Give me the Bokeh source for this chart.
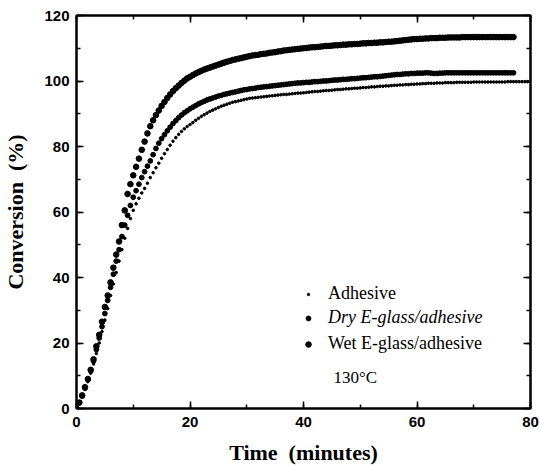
import numpy as np
from bokeh.plotting import figure
from bokeh.models import (ColumnDataSource, Range1d, LinearAxis, SingleIntervalTicker,
                          Legend, LegendItem, Label)
from bokeh.embed import file_html
from bokeh.resources import INLINE

# ---- data ----
time_step = 0.5
time_wet = np.arange(0, 155) * time_step      # 0 .. 77 min
time_dry = np.arange(0, 155) * time_step      # 0 .. 77 min
time_adh = np.arange(0, 160) * time_step      # 0 .. 79.5 min

wet = [
    0, 1.8, 4.0, 6.5, 9.0, 11.8, 15.0, 19.0, 22.5, 26.5,
    31.0, 34.5, 38.5, 43.0, 47.0, 51.0, 56.0, 60.5, 65.5, 68.5,
    71.2, 73.8, 76.3, 79.0, 81.5, 84.0, 86.2, 88.0, 89.6, 91.0,
    92.4, 93.6, 94.8, 95.9, 96.9, 97.8, 98.6, 99.4, 100.1, 100.8,
    101.3, 101.8, 102.3, 102.7, 103.1, 103.5, 103.8, 104.1, 104.4, 104.7,
    105.0, 105.3, 105.6, 105.9, 106.1, 106.4, 106.6, 106.8, 107.0, 107.2,
    107.4, 107.6, 107.8, 107.9, 108.0, 108.2, 108.3, 108.4, 108.6, 108.7,
    108.8, 109.0, 109.1, 109.3, 109.4, 109.5, 109.6, 109.7, 109.8, 109.9,
    110.0, 110.1, 110.2, 110.3, 110.3, 110.4, 110.5, 110.6, 110.7, 110.7,
    110.8, 110.9, 110.9, 111.0, 111.1, 111.1, 111.2, 111.2, 111.3, 111.3,
    111.4, 111.5, 111.5, 111.6, 111.6, 111.7, 111.7, 111.8, 111.8, 111.9,
    112.0, 112.0, 112.1, 112.2, 112.3, 112.4, 112.5, 112.6, 112.7, 112.8,
    112.8, 112.9, 112.9, 113.0, 113.0, 113.1, 113.1, 113.1, 113.2, 113.2,
    113.2, 113.3, 113.3, 113.3, 113.3, 113.3, 113.4, 113.4, 113.4, 113.4,
    113.4, 113.4, 113.4, 113.4, 113.4, 113.4, 113.4, 113.4, 113.4, 113.4,
    113.4, 113.4, 113.4, 113.4, 113.4,
]

dry = [
    0, 1.8, 3.8, 6.2, 8.8, 11.5, 14.5, 18.0, 21.5, 25.0,
    29.0, 33.0, 37.0, 41.0, 45.0, 48.5, 52.5, 56.0, 59.0, 62.0,
    64.5, 66.5, 68.5, 70.5, 72.3, 74.0, 75.6, 77.5, 79.4, 81.0,
    82.4, 83.6, 84.8, 85.9, 87.0, 87.9, 88.8, 89.6, 90.3, 90.9,
    91.5, 92.0, 92.5, 93.0, 93.4, 93.8, 94.2, 94.5, 94.8, 95.1,
    95.4, 95.6, 95.9, 96.1, 96.3, 96.5, 96.7, 96.9, 97.1, 97.3,
    97.4, 97.6, 97.7, 97.8, 98.0, 98.1, 98.2, 98.3, 98.4, 98.5,
    98.6, 98.7, 98.8, 98.9, 99.0, 99.1, 99.2, 99.3, 99.4, 99.4,
    99.5, 99.6, 99.6, 99.7, 99.8, 99.8, 99.9, 100.0, 100.0, 100.1,
    100.2, 100.3, 100.3, 100.4, 100.5, 100.5, 100.6, 100.7, 100.7, 100.8,
    100.9, 101.0, 101.0, 101.1, 101.2, 101.3, 101.3, 101.4, 101.5, 101.6,
    101.7, 101.8, 101.9, 102.0, 102.0, 102.1, 102.2, 102.2, 102.3, 102.3,
    102.4, 102.4, 102.4, 102.5, 102.5, 102.4, 102.3, 102.3, 102.4, 102.4,
    102.5, 102.5, 102.5, 102.5, 102.5, 102.5, 102.5, 102.5, 102.5, 102.5,
    102.5, 102.5, 102.5, 102.5, 102.5, 102.5, 102.5, 102.5, 102.5, 102.5,
    102.5, 102.5, 102.5, 102.5, 102.5,
]

adhesive = [
    0, 1.6, 3.5, 5.8, 8.2, 10.8, 13.6, 16.8, 20.0, 23.5,
    27.0, 30.5, 34.5, 38.0, 41.5, 45.0, 48.5, 52.0, 55.0, 58.0,
    60.5, 62.5, 64.2, 65.8, 67.2, 68.8, 70.5, 72.0, 73.5, 74.9,
    76.4, 77.8, 79.1, 80.4, 81.6, 82.7, 83.7, 84.6, 85.4, 86.1,
    86.7, 87.3, 88.0, 88.6, 89.2, 89.7, 90.2, 90.7, 91.1, 91.5,
    91.9, 92.3, 92.6, 92.9, 93.2, 93.5, 93.7, 93.9, 94.1, 94.3,
    94.5, 94.7, 94.8, 94.9, 95.0, 95.1, 95.2, 95.3, 95.4, 95.5,
    95.6, 95.7, 95.8, 95.9, 95.9, 96.0, 96.1, 96.2, 96.3, 96.3,
    96.4, 96.5, 96.6, 96.7, 96.8, 96.8, 96.9, 97.0, 97.1, 97.1,
    97.2, 97.3, 97.4, 97.4, 97.5, 97.6, 97.6, 97.7, 97.8, 97.8,
    97.9, 98.0, 98.0, 98.1, 98.2, 98.2, 98.3, 98.4, 98.4, 98.5,
    98.5, 98.6, 98.7, 98.7, 98.8, 98.8, 98.9, 98.9, 99.0, 99.0,
    99.1, 99.1, 99.2, 99.2, 99.3, 99.3, 99.3, 99.4, 99.4, 99.4,
    99.5, 99.5, 99.5, 99.5, 99.6, 99.6, 99.6, 99.6, 99.6, 99.6,
    99.7, 99.7, 99.7, 99.7, 99.7, 99.7, 99.7, 99.7, 99.7, 99.7,
    99.7, 99.7, 99.8, 99.8, 99.8, 99.8, 99.8, 99.8, 99.8, 99.8,
]

series_labels = ["Adhesive", "Dry E-glass/adhesive", "Wet E-glass/adhesive"]
temperature_note = "130\u00b0C"
x_title = "Time\u00a0 (minutes)"
y_title = "Conversion\u00a0 (%)"

# ---- figure ----
p = figure(width=540, height=470, output_backend="svg", toolbar_location=None,
           x_range=Range1d(0, 80), y_range=Range1d(0, 120),
           min_border_left=73, min_border_right=10, min_border_top=15,
           min_border_bottom=62, x_axis_location=None, y_axis_location=None)
p.grid.visible = False
p.outline_line_color = "black"
p.outline_line_width = 2
p.background_fill_color = "white"
p.border_fill_color = "white"

def style_axis(ax, labels=True):
    ax.axis_line_width = 2
    ax.axis_line_color = "black"
    ax.major_tick_in = 7
    ax.major_tick_out = 0
    ax.minor_tick_in = 4
    ax.minor_tick_out = 0
    ax.major_tick_line_width = 1.5
    ax.minor_tick_line_width = 1.5
    if labels:
        ax.major_label_text_font = "Liberation Sans"
        ax.major_label_text_font_style = "bold"
        ax.major_label_text_font_size = "15px"
        ax.major_label_text_color = "black"
        ax.axis_label_text_font = "Liberation Serif"
        ax.axis_label_text_font_style = "bold"
        ax.axis_label_text_font_size = "22px"
        ax.axis_label_text_color = "black"
    else:
        ax.major_label_text_color = None
        ax.major_label_text_font_size = "1px"
        ax.major_label_standoff = 0

xb = LinearAxis(ticker=SingleIntervalTicker(interval=20, num_minor_ticks=2), axis_label=x_title)
style_axis(xb)
xb.major_label_standoff = 8
xb.axis_label_standoff = 10
p.add_layout(xb, "below")

yl = LinearAxis(ticker=SingleIntervalTicker(interval=20, num_minor_ticks=2), axis_label=y_title)
style_axis(yl)
yl.major_label_standoff = 7
yl.axis_label_standoff = 13
p.add_layout(yl, "left")

xt = LinearAxis(ticker=SingleIntervalTicker(interval=20, num_minor_ticks=2))
style_axis(xt, labels=False)
p.add_layout(xt, "above")

yr = LinearAxis(ticker=SingleIntervalTicker(interval=20, num_minor_ticks=2))
style_axis(yr, labels=False)
p.add_layout(yr, "right")

src_adh = ColumnDataSource(dict(t=time_adh, v=adhesive))
src_dry = ColumnDataSource(dict(t=time_dry, v=dry))
src_wet = ColumnDataSource(dict(t=time_wet, v=wet))

r_adh = p.scatter("t", "v", source=src_adh, size=2.6, color="black", marker="circle")
r_dry = p.scatter("t", "v", source=src_dry, size=4.8, color="black", marker="circle")
r_wet = p.scatter("t", "v", source=src_wet, size=5.6, color="black", marker="circle")

# legend marker size in Bokeh follows the glyph box width, so each entry gets its own width
def make_legend(label, rend, loc, gw, standoff, italic=False):
    leg = Legend(items=[LegendItem(label=label, renderers=[rend])], location=loc,
                 orientation="vertical", padding=0, margin=0, spacing=0,
                 glyph_width=gw, glyph_height=20, label_height=20, label_standoff=standoff,
                 border_line_color=None, background_fill_alpha=0,
                 label_text_font="Liberation Serif", label_text_font_size="18px",
                 label_text_color="black",
                 label_text_font_style="italic" if italic else "normal")
    p.add_layout(leg)

make_legend(series_labels[0], r_adh, (229, 104), 6, 17)
make_legend(series_labels[1], r_dry, (226, 80), 12, 14, italic=True)
make_legend(series_labels[2], r_wet, (225, 54), 14, 13)

p.add_layout(Label(x=257, y=31, x_units="screen", y_units="screen", text=temperature_note,
                   text_font="Liberation Serif", text_font_size="17px", text_color="black",
                   text_baseline="middle"))

open("out.html", "w").write(file_html(p, INLINE))
